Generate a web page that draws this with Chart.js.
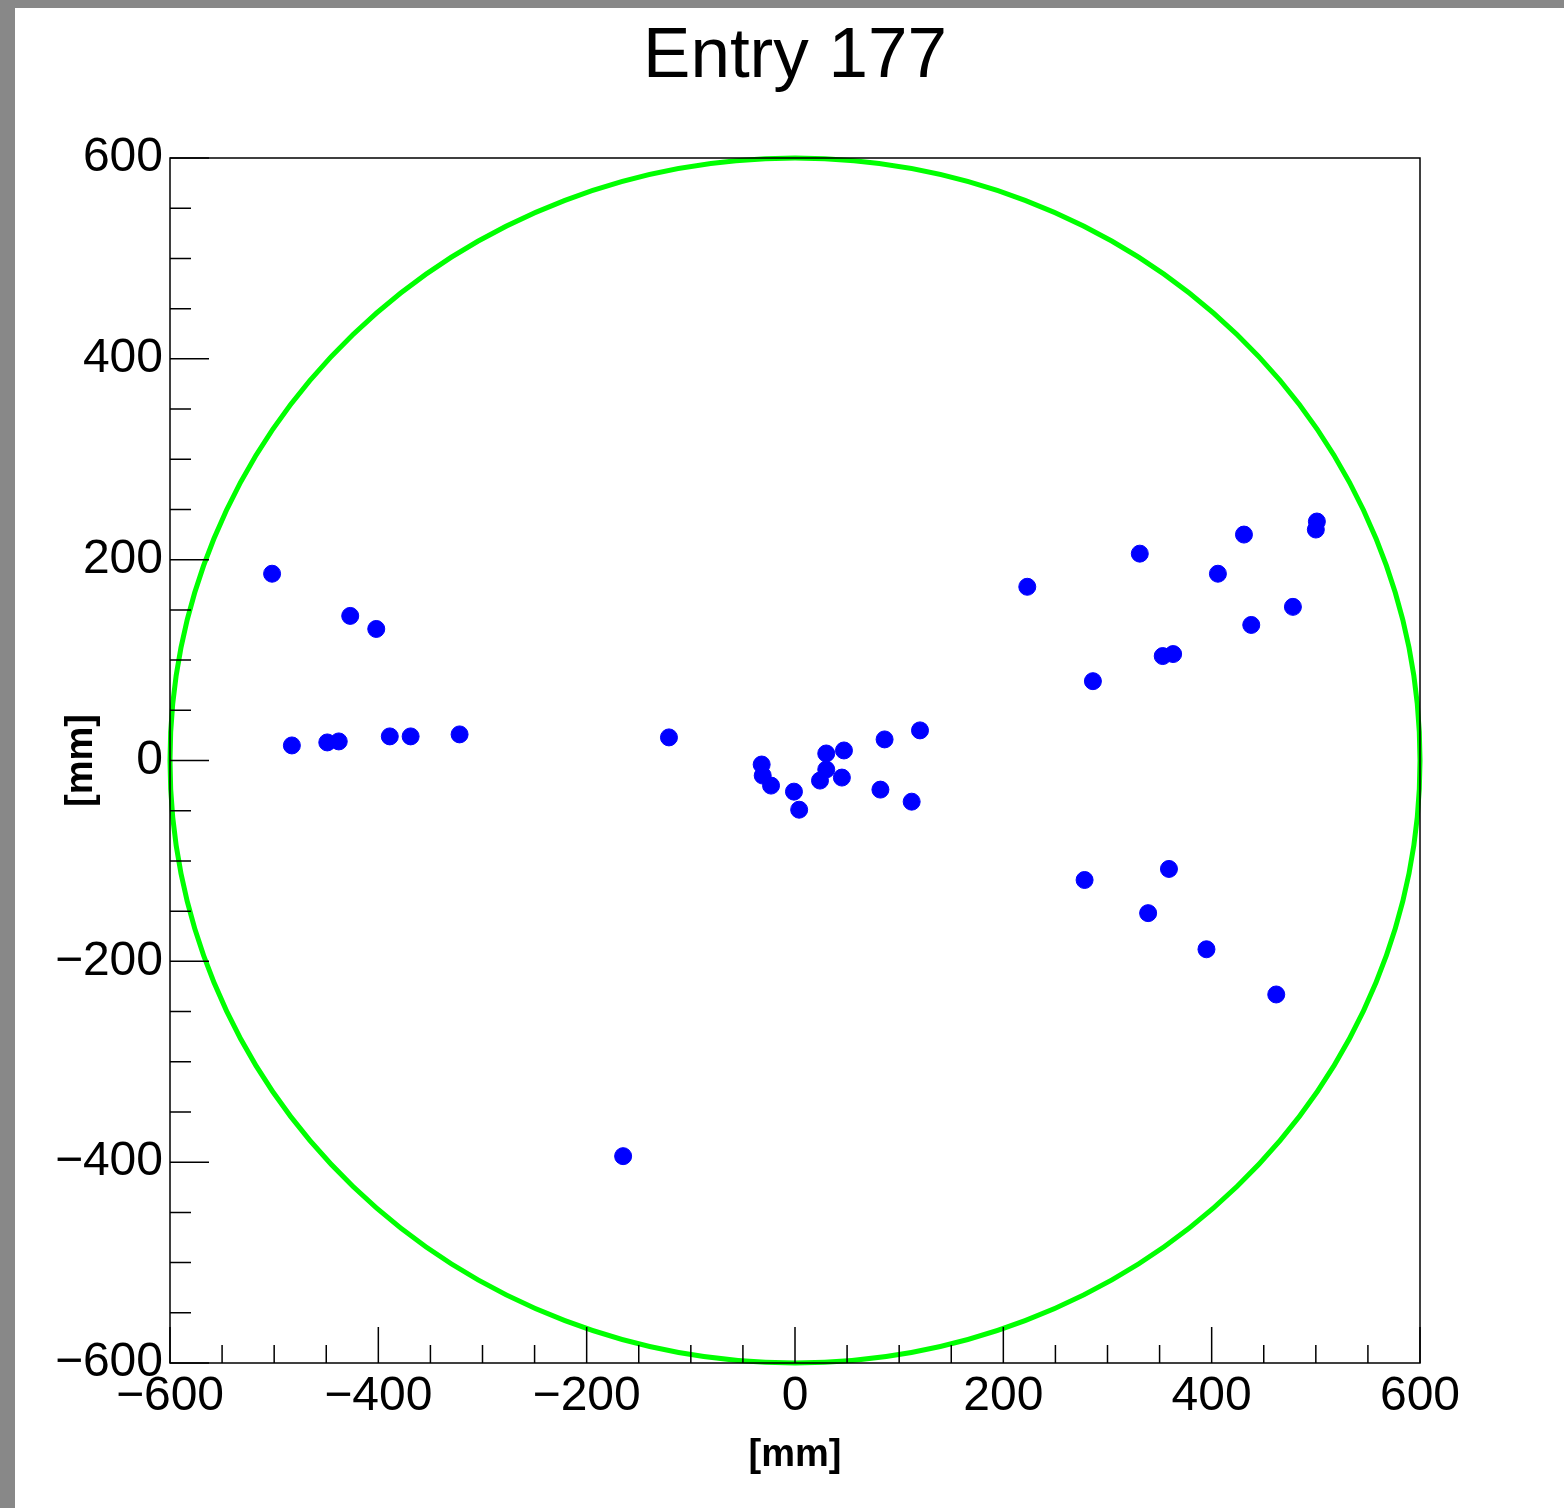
<!doctype html>
<html lang="en">
<head>
    <meta charset="utf-8">
    <title>Entry 177</title>
    <style>
        * {
            margin: 0;
            padding: 0;
        }

        body {
            width: 1564px;
            height: 1508px;
            background: #888888;
            overflow: hidden;
        }

        .chartBox {
            position: absolute;
            left: 15px;
            top: 8px;
            width: 1549px;
            height: 1500px;
            background: white;
        }
    </style>
</head>
<body>
<div class="chartBox">
    <canvas id="myChart" width="1549" height="1500"></canvas>
</div>
<script src="https://cdn.jsdelivr.net/npm/chart.js"></script>
<script>
    // data (mm)
    const hitX = [-502, -427, -402, -483, -449, -438, -389, -369, -322,
        -121, -32, -31, -23, -1, 4, 30, 47, 24, 30, 45, 86, 120, 82, 112,
        223, 331, 431, 501, 500, 406, 478, 438, 353, 363, 286,
        278, 359, 339, 395, 462, -165];
    const hitY = [186, 144, 131, 15, 18, 19, 24, 24, 26,
        23, -4, -15, -25, -31, -49, 7, 10, -20, -9, -17, 21, 30, -29, -41,
        173, 206, 225, 238, 230, 186, 153, 135, 104, 106, 79,
        -119, -108, -152, -188, -233, -394];

    const titleText = 'Entry 177';
    const axisMin = -600;
    const axisMax = 600;
    const majorStep = 200;
    const minorStep = 50;
    const circleRadius = 600;

    const points = hitX.map((x, i) => ({x: x, y: hitY[i]}));

    const fmt = v => (v < 0 ? '\u2212' + Math.abs(v) : String(v));

    // ROOT-like frame, inward ticks, detector circle and title over the frame
    const rootFrame = {
        id: 'rootFrame',
        beforeDatasetsDraw(chart) {
            const {ctx, scales: {x, y}} = chart;
            const cx = x.getPixelForValue(0);
            const cy = y.getPixelForValue(0);
            const rx = x.getPixelForValue(circleRadius) - cx;
            const ry = cy - y.getPixelForValue(circleRadius);
            ctx.save();
            ctx.strokeStyle = '#00ff00';
            ctx.lineWidth = 5;
            ctx.beginPath();
            ctx.ellipse(cx, cy, rx, ry, 0, 0, Math.PI * 2);
            ctx.stroke();
            ctx.restore();
        },
        afterDatasetsDraw(chart) {
            const {ctx, chartArea: {top, bottom, left, right}, scales: {x, y}} = chart;
            ctx.save();
            ctx.strokeStyle = '#000';
            ctx.lineWidth = 1.5;
            ctx.strokeRect(left, top, right - left, bottom - top);
            ctx.beginPath();
            for (let v = axisMin; v <= axisMax; v += minorStep) {
                const major = v % majorStep === 0;
                const px = x.getPixelForValue(v);
                ctx.moveTo(px, bottom);
                ctx.lineTo(px, bottom - (major ? 36 : 18));
                const py = y.getPixelForValue(v);
                ctx.moveTo(left, py);
                ctx.lineTo(left + (major ? 39 : 21), py);
            }
            ctx.stroke();

            ctx.fillStyle = '#000';
            ctx.font = '71px "Liberation Sans"';
            ctx.textAlign = 'center';
            ctx.textBaseline = 'middle';
            ctx.fillText(titleText, (left + right) / 2, 49);
            ctx.restore();
        }
    };

    const data = {
        datasets: [{
            label: 'hits',
            data: points,
            backgroundColor: '#0000ff',
            borderColor: '#0000ff',
            borderWidth: 1,
            pointRadius: 8.5,
        }]
    };

    const tickFont = {family: 'Liberation Sans', size: 48};
    const titleFont = {family: 'Liberation Sans', size: 38, weight: 'bold'};

    const config = {
        type: 'scatter',
        data,
        options: {
            responsive: false,
            animation: false,
            layout: {
                padding: {left: 0, right: 144, top: 150, bottom: 0}
            },
            plugins: {
                legend: {display: false},
                tooltip: {enabled: false},
                title: {display: false}
            },
            scales: {
                x: {
                    min: axisMin,
                    max: axisMax,
                    afterFit(scale) {
                        scale.height = 145;
                    },
                    grid: {display: false, drawTicks: false},
                    border: {display: false},
                    ticks: {
                        stepSize: majorStep,
                        maxRotation: 0,
                        autoSkip: false,
                        padding: 5,
                        color: '#000',
                        font: tickFont,
                        callback: v => fmt(v)
                    },
                    title: {
                        display: true,
                        text: '[mm]',
                        color: '#000',
                        font: titleFont,
                        padding: {top: 0, bottom: 30}
                    }
                },
                y: {
                    min: axisMin,
                    max: axisMax,
                    afterFit(scale) {
                        scale.width = 155;
                    },
                    grid: {display: false, drawTicks: false},
                    border: {display: false},
                    ticks: {
                        stepSize: majorStep,
                        autoSkip: false,
                        padding: 7,
                        color: '#000',
                        font: tickFont,
                        callback: v => fmt(v)
                    },
                    title: {
                        display: true,
                        text: '[mm]',
                        color: '#000',
                        font: titleFont,
                        padding: {top: 44, bottom: 0}
                    }
                }
            }
        },
        plugins: [rootFrame]
    };

    const myChart = new Chart(
        document.getElementById('myChart'),
        config
    );
</script>
</body>
</html>
